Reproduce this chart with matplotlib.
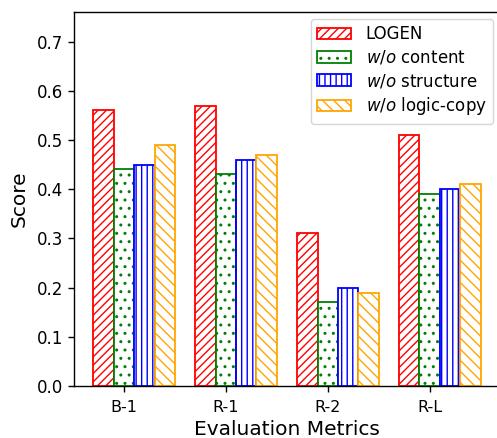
import matplotlib
matplotlib.use("Agg")
import matplotlib.pyplot as plt
import numpy as np

categories = ["B-1", "R-1", "R-2", "R-L"]
series_names = ["LOGEN", "$w/o$ content", "$w/o$ structure", "$w/o$ logic-copy"]
logen = [0.56, 0.57, 0.31, 0.51]
wo_content = [0.44, 0.43, 0.17, 0.39]
wo_structure = [0.45, 0.46, 0.20, 0.40]
wo_logic_copy = [0.49, 0.47, 0.19, 0.41]

colors = ["red", "green", "blue", "orange"]
hatches = ["////", "..", "|||", "\\\\\\"]

plt.rcParams['axes.linewidth'] = 1.0

fig = plt.figure(figsize=(4.97, 4.38), dpi=100)
ax = fig.add_axes([74/497, 1-386/438, 426/497, (386-12)/438])

x = np.arange(len(categories))
w = 0.2
for k, (vals, name) in enumerate(zip([logen, wo_content, wo_structure, wo_logic_copy], series_names)):
    ax.bar(x + k*w, vals, w, label=name, color="white", edgecolor=colors[k],
           hatch=hatches[k], linewidth=1.3)

ax.set_xticks(x + w)
ax.set_xticklabels(categories)
ax.set_ylim(0, 0.76)
ax.set_yticks(np.arange(0, 0.71, 0.1))
ax.tick_params(axis='y', labelsize=12, length=4, width=1.0)
ax.tick_params(axis='x', labelsize=11.5, length=4, width=1.0, pad=6)
ax.set_ylabel("Score", fontsize=14.5, labelpad=6)
ax.set_xlabel("Evaluation Metrics", fontsize=14.5, labelpad=3.5)
ax.legend(loc="upper right", fontsize=12, labelspacing=0.32,
          handletextpad=0.9, borderaxespad=0.4)

fig.savefig("out.png", dpi=100)
